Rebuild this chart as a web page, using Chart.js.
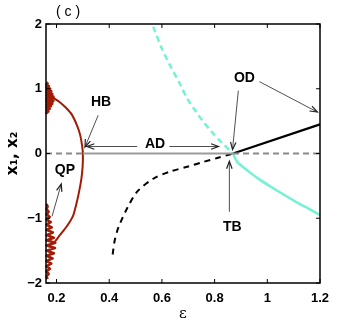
<!DOCTYPE html>
<html>
<head>
<meta charset="utf-8">
<script src="https://cdn.jsdelivr.net/npm/chart.js@4"></script>
<style>
  html, body { margin: 0; padding: 0; background: #fff; }
  #wrap { width: 354px; height: 327px; position: relative; }
</style>
</head>
<body>
<div id="wrap"><canvas id="myChart"></canvas></div>
<script>
// tick values
const xTicks = [0.2, 0.4, 0.6, 0.8, 1, 1.2];
const yTicks = [-2, -1, 0, 1, 2];

// quasi-periodic bands (oscillation traced by hand)
const qpUpper = [[0.162,1.1],[0.166,1.08],[0.162,1.06],[0.171,1.04],[0.162,1.02],[0.176,1.0],[0.162,0.98],[0.18,0.96],
  [0.162,0.94],[0.184,0.92],[0.162,0.9],[0.188,0.88],[0.162,0.86],[0.19,0.85],[0.162,0.83],[0.188,0.81],[0.162,0.79],
  [0.184,0.77],[0.162,0.75],[0.179,0.73],[0.162,0.71],[0.174,0.69],[0.162,0.67],[0.169,0.65],[0.162,0.63],[0.165,0.61]];
const qpLower = [[0.162,-0.78],[0.166,-0.82],[0.162,-0.86],[0.17,-0.9],[0.162,-0.94],[0.174,-0.98],[0.162,-1.02],[0.178,-1.06],
  [0.162,-1.1],[0.182,-1.14],[0.162,-1.18],[0.186,-1.22],[0.162,-1.26],[0.19,-1.3],[0.162,-1.34],[0.195,-1.38],[0.162,-1.42],
  [0.194,-1.46],[0.162,-1.5],[0.19,-1.54],[0.162,-1.58],[0.185,-1.62],[0.162,-1.66],[0.18,-1.7],[0.162,-1.74],[0.175,-1.78],
  [0.162,-1.82],[0.17,-1.86],[0.162,-1.9],[0.166,-1.94]];

// limit cycle amplitude (red)
const limitCycle = [[0.188,0.86],[0.21,0.8],[0.235,0.71],[0.258,0.6],[0.278,0.43],[0.29,0.28],[0.297,0.12],[0.3,0],
  [0.299,-0.2],[0.294,-0.4],[0.285,-0.6],[0.274,-0.8],[0.263,-0.96],[0.245,-1.09],[0.225,-1.2],[0.207,-1.29],[0.194,-1.36]];

// steady states
const adSolid = [[0.3,0],[0.87,0]];
const zeroDashLeft = [[0.16,0],[0.3,0]];
const zeroDashRight = [[0.87,0],[1.2,0]];
const odStable = [[0.87,0],[1.2,0.45]];
const odUnstable = [[0.413,-1.56],[0.42,-1.36],[0.43,-1.2],[0.441,-1.08],[0.47,-0.83],[0.506,-0.59],[0.567,-0.39],
  [0.631,-0.28],[0.7,-0.2],[0.757,-0.13],[0.81,-0.07],[0.87,0]];
const cyanUnstable = [[0.567,1.96],[0.6,1.62],[0.631,1.36],[0.665,1.1],[0.696,0.85],[0.727,0.66],[0.757,0.49],
  [0.79,0.33],[0.822,0.19],[0.87,0]];
const cyanStable = [[0.87,0],[0.886,-0.13],[0.93,-0.28],[0.97,-0.4],[1.012,-0.51],[1.06,-0.63],[1.11,-0.75],[1.16,-0.86],[1.2,-0.95]];

const toXY = arr => arr.map(p => ({x: p[0], y: p[1]}));
const red = '#a21b05';
const cyan = '#74f2d3';

function line(data, color, width, dash, tension) {
  return {
    data: toXY(data),
    showLine: true,
    borderColor: color,
    borderWidth: width,
    borderDash: dash || [],
    borderJoinStyle: 'round',
    pointRadius: 0,
    tension: tension || 0,
    clip: 2
  };
}

const bold = 'bold 14px "Liberation Sans", Arial, sans-serif';

// [text, x, y] then arrows [x1,y1,x2,y2] in data units
const labels = [['HB', 0.369, 0.79], ['AD', 0.574, 0.14], ['OD', 0.913, 1.16], ['TB', 0.867, -1.13], ['QP', 0.232, -0.26]];
const arrows = [[0.358,0.59,0.308,0.1],[0.506,0.108,0.315,0.108],[0.628,0.108,0.815,0.108],
  [0.89,0.97,0.868,0.06],[0.97,1.11,1.19,0.64],[0.856,-0.9,0.856,-0.12],[0.183,-0.97,0.218,-0.47]];

const decor = {
  id: 'decor',
  afterDatasetsDraw(chart) {
    const {ctx, chartArea: a, scales: {x, y}} = chart;
    ctx.save();
    // box
    ctx.strokeStyle = '#000';
    ctx.lineWidth = 1.5;
    ctx.strokeRect(a.left, a.top, a.right - a.left, a.bottom - a.top);
    // inward ticks
    ctx.lineWidth = 1;
    xTicks.forEach(v => {
      const px = x.getPixelForValue(v);
      ctx.beginPath();
      ctx.moveTo(px, a.bottom); ctx.lineTo(px, a.bottom - 4);
      ctx.moveTo(px, a.top); ctx.lineTo(px, a.top + 4);
      ctx.stroke();
    });
    yTicks.forEach(v => {
      const py = y.getPixelForValue(v);
      ctx.beginPath();
      ctx.moveTo(a.left, py); ctx.lineTo(a.left + 4, py);
      ctx.moveTo(a.right, py); ctx.lineTo(a.right - 4, py);
      ctx.stroke();
    });
    // arrows
    ctx.lineWidth = 0.8;
    ctx.strokeStyle = '#222';
    arrows.forEach(r => {
      const x1 = x.getPixelForValue(r[0]), y1 = y.getPixelForValue(r[1]);
      const x2 = x.getPixelForValue(r[2]), y2 = y.getPixelForValue(r[3]);
      ctx.beginPath(); ctx.moveTo(x1, y1); ctx.lineTo(x2, y2); ctx.stroke();
      const ang = Math.atan2(y2 - y1, x2 - x1);
      ctx.beginPath();
      ctx.moveTo(x2 - 8 * Math.cos(ang - 0.35), y2 - 8 * Math.sin(ang - 0.35));
      ctx.lineTo(x2, y2);
      ctx.lineTo(x2 - 8 * Math.cos(ang + 0.35), y2 - 8 * Math.sin(ang + 0.35));
      ctx.lineWidth = 1.2;
      ctx.stroke();
      ctx.lineWidth = 0.8;
    });
    // labels
    ctx.fillStyle = '#000';
    ctx.font = bold;
    ctx.textAlign = 'center';
    ctx.textBaseline = 'middle';
    labels.forEach(l => ctx.fillText(l[0], x.getPixelForValue(l[1]), y.getPixelForValue(l[2])));
    ctx.font = '14px "Liberation Sans", Arial, sans-serif';
    ctx.fillText('( c )', a.left + 22, a.top - 12);
    ctx.restore();
  }
};

new Chart(document.getElementById('myChart'), {
  type: 'scatter',
  data: {
    datasets: [
      line(zeroDashLeft, '#8a8a8a', 2, [6, 4]),
      line(zeroDashRight, '#8a8a8a', 2, [6, 4]),
      line(adSolid, '#9c9c9c', 2.2),
      line(cyanUnstable, cyan, 2.5, [6, 4], 0.3),
      line(cyanStable, cyan, 2.5, [], 0.3),
      line(odUnstable, '#000', 2, [6, 5], 0.3),
      line(odStable, '#000', 2.2),
      line(limitCycle, red, 2, [], 0.15),
      line(qpUpper, red, 2.6),
      line(qpLower, red, 2.6)
    ]
  },
  options: {
    responsive: true,
    maintainAspectRatio: false,
    animation: false,
    layout: { padding: { top: 24, right: 34, left: 0, bottom: 0 } },
    plugins: { legend: { display: false }, tooltip: { enabled: false } },
    scales: {
      x: {
        type: 'linear',
        min: 0.16,
        max: 1.2,
        afterBuildTicks: s => { s.ticks = xTicks.map(v => ({value: v})); },
        afterFit: s => { s.height = 44; },
        grid: { display: false, drawTicks: false },
        border: { display: false },
        ticks: {
          color: '#000',
          padding: 8,
          font: { family: '"Liberation Sans", Arial, sans-serif', size: 13, weight: 'bold' },
          callback: v => String(v)
        },
        title: {
          display: true,
          text: 'ε',
          color: '#000',
          padding: { top: 0 },
          font: { family: '"DejaVu Serif", serif', size: 15 }
        }
      },
      y: {
        type: 'linear',
        min: -2,
        max: 2,
        afterBuildTicks: s => { s.ticks = yTicks.map(v => ({value: v})); },
        afterFit: s => { s.width = 46; },
        grid: { display: false, drawTicks: false },
        border: { display: false },
        ticks: {
          color: '#000',
          padding: 4,
          font: { family: '"Liberation Sans", Arial, sans-serif', size: 13, weight: 'bold' },
          callback: v => v < 0 ? '\u2212' + Math.abs(v) : String(v)
        },
        title: {
          display: true,
          text: 'x\u2081, x\u2082',
          color: '#000',
          padding: { bottom: 2 },
          font: { family: '"DejaVu Sans", sans-serif', size: 15, weight: 'bold' }
        }
      }
    }
  },
  plugins: [decor]
});
</script>
</body>
</html>
